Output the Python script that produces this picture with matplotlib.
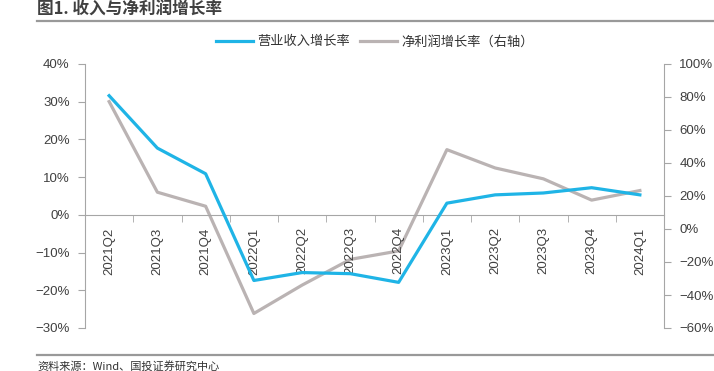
import matplotlib.pyplot as plt
from matplotlib.lines import Line2D

plt.rcParams['font.family'] = ['Liberation Sans', 'Noto Sans CJK SC', 'DejaVu Sans']

# data
quarters = ['2021Q2', '2021Q3', '2021Q4', '2022Q1', '2022Q2', '2022Q3',
            '2022Q4', '2023Q1', '2023Q2', '2023Q3', '2023Q4', '2024Q1']
revenue_growth = [31.6, 17.7, 10.9, -17.4, -15.3, -15.6, -17.9, 3.1, 5.3, 5.8, 7.2, 5.3]
profit_growth = [77.2, 22.3, 13.8, -51.2, -34.0, -18.4, -13.3, 48.1, 37.0, 30.4, 17.5, 23.3]
left_ticks = [-30, -20, -10, 0, 10, 20, 30, 40]
right_ticks = [-60, -40, -20, 0, 20, 40, 60, 80, 100]

blue = '#1FB4E6'
grey = '#BAB3B3'
axis_col = '#A6A6A6'
text_col = '#404040'

fig = plt.figure(figsize=(7.14, 3.71), dpi=100)
ax = fig.add_axes([85 / 714, 43 / 371, 579 / 714, 264 / 371])
ax2 = ax.twinx()

x = list(range(len(quarters)))
ax.plot(x, revenue_growth, color=blue, lw=2.3, zorder=3)
ax2.plot(x, profit_growth, color=grey, lw=2.3, zorder=2)
ax.set_zorder(ax2.get_zorder() + 1)
ax.patch.set_visible(False)

ax.set_xlim(-0.5, len(quarters) - 0.5)
ax.set_ylim(-30, 40)
ax2.set_ylim(-60, 100)

ax.set_yticks(left_ticks)
ax.set_yticklabels([f'{v}%'.replace('-', '\u2212') for v in left_ticks])
ax2.set_yticks(right_ticks)
ax2.set_yticklabels([f'{v}%'.replace('-', '\u2212') for v in right_ticks])

# category axis sits on left 0%
ax.spines['bottom'].set_position(('data', 0))
ax.set_xticks(x)
ax.set_xticklabels(quarters, rotation=90, va='top', ha='center')
ax.set_xticks([i - 0.5 for i in range(len(quarters) + 1)], minor=True)
ax.tick_params(axis='x', which='major', length=0, pad=9, labelsize=9.5, labelcolor=text_col)
ax.tick_params(axis='x', which='minor', length=5, direction='out', color=axis_col)
ax.tick_params(axis='y', length=5, color=axis_col, labelsize=9.5, labelcolor=text_col, pad=6)
ax2.tick_params(axis='y', length=5, color=axis_col, labelsize=9.5, labelcolor=text_col, pad=6)

for s in ['top', 'right']:
    ax.spines[s].set_visible(False)
for s in ['top', 'bottom', 'left']:
    ax2.spines[s].set_visible(False)
ax.spines['left'].set_color(axis_col)
ax.spines['bottom'].set_color(axis_col)
ax2.spines['right'].set_color(axis_col)

# title and rules
fig.text(37 / 714, 1 - 10 / 371, '图1. 收入与净利润增长率', fontsize=12, fontweight='bold',
         color='#404040', va='center', ha='left', family=['Noto Sans CJK SC', 'DejaVu Sans'])
fig.add_artist(Line2D([37 / 714, 1], [1 - 21 / 371] * 2, color='#999999', lw=1.6))
fig.add_artist(Line2D([37 / 714, 1], [1 - 355 / 371] * 2, color='#999999', lw=1.6))
fig.text(37 / 714, 1 - 366 / 371, '资料来源：Wind、国投证券研究中心', fontsize=8, color='#333333',
         va='center', ha='left', family=['Noto Sans CJK SC', 'DejaVu Sans'])

handles = [Line2D([], [], color=blue, lw=2.3), Line2D([], [], color=grey, lw=2.3)]
fig.legend(handles, ['营业收入增长率', '净利润增长率（右轴）'], loc='center',
           bbox_to_anchor=(375 / 714, 1 - 42 / 371), ncol=2, frameon=False,
           prop={'family': ['Noto Sans CJK SC', 'DejaVu Sans'], 'size': 9.5},
           handlelength=2.8, handletextpad=0.3, columnspacing=0.8, labelcolor='#333333')

fig.savefig('out.png', dpi=100)
